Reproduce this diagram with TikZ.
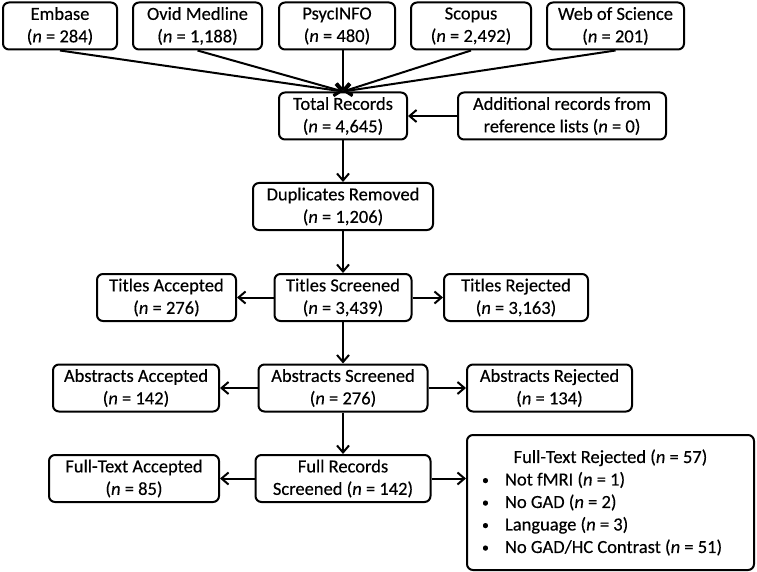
\documentclass[tikz,border=0pt]{standalone}
\usepackage{fontspec}
\setmainfont{Carlito}[UprightFeatures={FakeBold=0.3},ItalicFeatures={FakeBold=0.3}]
\usetikzlibrary{arrows.meta}
\newcommand\frbullet[1]{\makebox[287pt][l]{\hspace*{15pt}\makebox[23pt][l]{\raisebox{1pt}{\scalebox{0.75}{\textbullet}}}#1}}
\begin{document}
\begin{tikzpicture}[x=1pt,y=-1pt,
  box/.style={draw, line width=2pt, rounded corners=6pt, minimum height=47pt,
    inner sep=0pt, align=center, font=\fontsize{18.5pt}{22.5pt}\selectfont},
  arr/.style={line width=2pt, -{Straight Barb[length=7pt,width=12pt]}}]
\useasboundingbox (0,0) rectangle (757,572);
% top row
\node[box, minimum width=114pt] (embase) at (60,26) {Embase\\(\textit{n} = 284)};
\node[box, minimum width=129pt] (ovid) at (197.5,26) {Ovid Medline\\(\textit{n} = 1,188)};
\node[box, minimum width=116pt] (psyc) at (337,26) {PsycINFO\\(\textit{n} = 480)};
\node[box, minimum width=120pt] (scopus) at (471,26) {Scopus\\(\textit{n} = 2,492)};
\node[box, minimum width=137pt] (wos) at (615.5,26) {Web of Science\\(\textit{n} = 201)};
% total / additional
\node[box, minimum width=128pt] (total) at (343,116) {Total Records\\(\textit{n} = 4,645)};
\node[box, minimum width=208pt] (addl) at (562,116) {Additional records from\\reference lists (\textit{n} = 0)};
% duplicates
\node[box, minimum width=180pt] (dup) at (343,206.5) {Duplicates Removed\\(\textit{n} = 1,206)};
% titles
\node[box, minimum width=137pt] (tscr) at (343,297.5) {Titles Screened\\(\textit{n} = 3,439)};
\node[box, minimum width=139pt] (tacc) at (166.5,297.5) {Titles Accepted\\(\textit{n} = 276)};
\node[box, minimum width=144pt] (trej) at (516,297.5) {Titles Rejected\\(\textit{n} = 3,163)};
% abstracts
\node[box, minimum width=169pt] (ascr) at (343,388) {Abstracts Screened\\(\textit{n} = 276)};
\node[box, minimum width=166pt] (aacc) at (136,388) {Abstracts Accepted\\(\textit{n} = 142)};
\node[box, minimum width=165pt] (arej) at (549.5,388) {Abstracts Rejected\\(\textit{n} = 134)};
% full text
\node[box, minimum width=175pt] (fscr) at (343,478.5) {Full Records\\Screened (\textit{n} = 142)};
\node[box, minimum width=170pt] (facc) at (134,478.5) {Full-Text Accepted\\(\textit{n} = 85)};
\node[box, align=flush center, minimum width=287pt, minimum height=135pt, text width=287pt] (frej) at (610.5,502.5)
  {Full-Text Rejected (\textit{n} = 57)\\
   \frbullet{Not fMRI (\textit{n} = 1)}\\
   \frbullet{No GAD (\textit{n} = 2)}\\
   \frbullet{Language (\textit{n} = 3)}\\
   \frbullet{No GAD/HC Contrast (\textit{n} = 51)}};
% connectors
\draw[arr] (embase.south) -- (total.north);
\draw[arr] (ovid.south) -- (total.north);
\draw[arr] (psyc.south -| total.north) -- (total.north);
\draw[arr] (scopus.south) -- (total.north);
\draw[arr] (wos.south) -- (total.north);
\draw[arr] (addl.west) -- (total.east);
\draw[arr] (total.south) -- (dup.north);
\draw[arr] (dup.south) -- (tscr.north);
\draw[arr] (tscr.west) -- (tacc.east);
\draw[arr] (tscr.east) -- (trej.west);
\draw[arr] (tscr.south) -- (ascr.north);
\draw[arr] (ascr.west) -- (aacc.east);
\draw[arr] (ascr.east) -- (arej.west);
\draw[arr] (ascr.south) -- (fscr.north);
\draw[arr] (fscr.west) -- (facc.east);
\draw[arr] (fscr.east) -- (fscr.east -| frej.west);
\end{tikzpicture}
\end{document}
